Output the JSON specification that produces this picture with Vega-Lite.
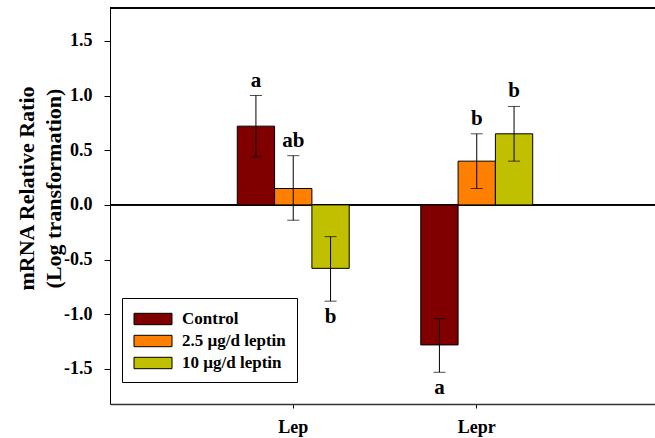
{
  "$schema": "https://vega.github.io/schema/vega-lite/v6.json",
  "autosize": {"type": "none"},
  "padding": {"left": 110, "top": 8, "right": 0, "bottom": 34},
  "width": 545,
  "height": 396,
  "background": "white",
  "config": {
    "view": {"stroke": null},
    "font": "Liberation Serif",
    "axis": {"grid": false, "domainColor": "black", "tickColor": "black", "labelColor": "black", "titleColor": "black"},
    "legend": {"labelFont": "Liberation Serif", "titleFont": "Liberation Serif"}
  },
  "data": {
    "values": [
      {"gene": "Lep", "group": "Control", "value": 0.72, "lo": 0.44, "hi": 1.0, "letter": "a"},
      {"gene": "Lep", "group": "2.5 µg/d leptin", "value": 0.15, "lo": -0.14, "hi": 0.45, "letter": "ab"},
      {"gene": "Lep", "group": "10 µg/d leptin", "value": -0.58, "lo": -0.88, "hi": -0.29, "letter": "b"},
      {"gene": "Lepr", "group": "Control", "value": -1.28, "lo": -1.53, "hi": -1.04, "letter": "a"},
      {"gene": "Lepr", "group": "2.5 µg/d leptin", "value": 0.4, "lo": 0.15, "hi": 0.65, "letter": "b"},
      {"gene": "Lepr", "group": "10 µg/d leptin", "value": 0.65, "lo": 0.4, "hi": 0.9, "letter": "b"}
    ]
  },
  "encoding": {
    "x": {
      "field": "gene", "type": "nominal",
      "scale": {"domain": ["Lep", "Lepr"], "paddingInner": 0.39, "paddingOuter": 0.68, "align": 0.51},
      "axis": {
        "title": null, "labelAngle": 0, "labelFont": "Liberation Serif", "labelFontWeight": "bold",
        "labelFontSize": 18, "tickSize": 4, "labelPadding": 10, "domainColor": "#333", "domainWidth": 1.5
      }
    },
    "xOffset": {
      "field": "group", "type": "nominal",
      "scale": {"domain": ["Control", "2.5 µg/d leptin", "10 µg/d leptin"], "paddingInner": 0, "paddingOuter": 0}
    }
  },
  "layer": [
    {
      "mark": {"type": "rule", "color": "black", "strokeWidth": 1},
      "encoding": {"y": {"datum": 0}, "x": null, "xOffset": null}
    },
    {
      "mark": {"type": "bar", "stroke": "black", "strokeWidth": 1},
      "encoding": {
        "y": {
          "field": "value", "type": "quantitative",
          "scale": {"domain": [-1.82, 1.8], "nice": false, "zero": false},
          "axis": {
            "title": ["mRNA Relative Ratio", "(Log transformation)"],
            "titleFont": "Liberation Serif", "titleFontWeight": "bold",
            "titleFontSize": 22, "titleLineHeight": 27,
            "titleX": -77, "titleY": 180, "titleBaseline": "alphabetic", "titleAlign": "center", "titleAngle": -90,
            "values": [-1.5, -1, -0.5, 0, 0.5, 1, 1.5], "format": ".1f",
            "labelExpr": "replace(datum.label, '\u2212', '-')",
            "labelFont": "Liberation Serif", "labelFontWeight": "bold",
            "labelFontSize": 18, "tickSize": 6, "labelPadding": 12
          }
        },
        "y2": {"datum": 0},
        "color": {
          "field": "group", "type": "nominal",
          "scale": {"domain": ["Control", "2.5 µg/d leptin", "10 µg/d leptin"], "range": ["#800000", "#FF8000", "#C0C000"]},
          "legend": {
            "title": null, "orient": "none", "legendX": 12, "legendY": 290,
            "padding": 11, "strokeColor": "black", "fillColor": "white",
            "symbolType": "M-2,-0.6H2V0.6H-2Z", "symbolSize": 361, "symbolOffset": 10,
            "symbolStrokeColor": "black", "symbolStrokeWidth": 1, "symbolOpacity": 1,
            "labelFont": "Liberation Serif", "labelFontWeight": "bold", "labelFontSize": 17,
            "labelColor": "black", "labelOffset": 19, "rowPadding": 4
          }
        }
      }
    },
    {
      "mark": {"type": "rule", "color": "black", "strokeWidth": 1},
      "encoding": {"y": {"field": "lo", "type": "quantitative"}, "y2": {"field": "hi"}}
    },
    {
      "mark": {"type": "tick", "color": "black", "size": 12, "thickness": 1},
      "encoding": {"y": {"field": "lo", "type": "quantitative"}}
    },
    {
      "mark": {"type": "tick", "color": "black", "size": 12, "thickness": 1},
      "encoding": {"y": {"field": "hi", "type": "quantitative"}}
    },
    {
      "transform": [{"filter": "datum.value >= 0"}],
      "mark": {"type": "text", "font": "Liberation Serif", "fontWeight": "bold", "fontSize": 21, "baseline": "alphabetic", "dy": -9, "color": "black"},
      "encoding": {"y": {"field": "hi", "type": "quantitative"}, "text": {"field": "letter"}}
    },
    {
      "transform": [{"filter": "datum.value < 0"}],
      "mark": {"type": "text", "font": "Liberation Serif", "fontWeight": "bold", "fontSize": 21, "baseline": "alphabetic", "dy": 22, "color": "black"},
      "encoding": {"y": {"field": "lo", "type": "quantitative"}, "text": {"field": "letter"}}
    },
    {
      "mark": {"type": "rule", "color": "black", "strokeWidth": 1},
      "encoding": {"y": {"datum": 1.8}, "x": null, "xOffset": null}
    }
  ]
}
